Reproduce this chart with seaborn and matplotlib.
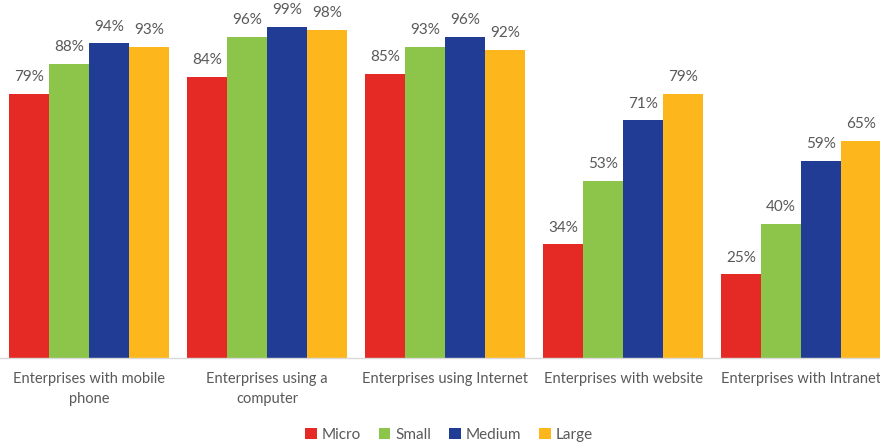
import matplotlib
matplotlib.use("Agg")
import matplotlib.pyplot as plt
import seaborn as sns
import pandas as pd

categories = ["Enterprises with mobile\nphone", "Enterprises using a\ncomputer",
              "Enterprises using Internet", "Enterprises with website",
              "Enterprises with Intranet"]
series = ["Micro", "Small", "Medium", "Large"]
micro = [79, 84, 85, 34, 25]
small = [88, 96, 93, 53, 40]
medium = [94, 99, 96, 71, 59]
large = [93, 98, 92, 79, 65]
colors = ["#E52A25", "#8DC54B", "#203C94", "#FDB71C"]

rows = []
for s, vals in zip(series, [micro, small, medium, large]):
    for c, v in zip(categories, vals):
        rows.append({"category": c, "size": s, "value": v})
df = pd.DataFrame(rows)

sns.set_style("white")
plt.rcParams["font.family"] = ["Lato", "DejaVu Sans"]

fig = plt.figure(figsize=(8.8, 4.46), dpi=100)
ax = fig.add_axes([0.0, 1 - 358 / 446, 890 / 880, 358 / 446])
sns.barplot(data=df, x="category", y="value", hue="size", hue_order=series,
            order=categories, palette=colors, width=0.9, saturation=1,
            ax=ax, legend=False, linewidth=0)

txt = "#595959"
for cont in ax.containers:
    ax.bar_label(cont, fmt="%d%%", padding=7, color=txt, fontsize=11)

ax.set_ylim(0, 107)
ax.set_xlim(-0.5, 4.5)
ax.set_xlabel("")
ax.set_ylabel("")
ax.set_yticks([])
for side in ["top", "right", "left"]:
    ax.spines[side].set_visible(False)
ax.spines["bottom"].set_color("#D9D9D9")
ax.spines["bottom"].set_linewidth(1)
ax.tick_params(axis="x", length=0, pad=10, labelsize=10.5, labelcolor=txt)
for lab in ax.get_xticklabels():
    lab.set_linespacing(1.6)

from matplotlib.patches import Patch
handles = [Patch(facecolor=c, edgecolor="none") for c in colors]
fig.legend(handles, series, loc="center", bbox_to_anchor=(0.51, 0.025), ncol=4,
           frameon=False, handlelength=0.75, handleheight=0.75, handletextpad=0.3,
           columnspacing=1.2, fontsize=11, labelcolor=txt)

fig.savefig("out.png", dpi=100)
